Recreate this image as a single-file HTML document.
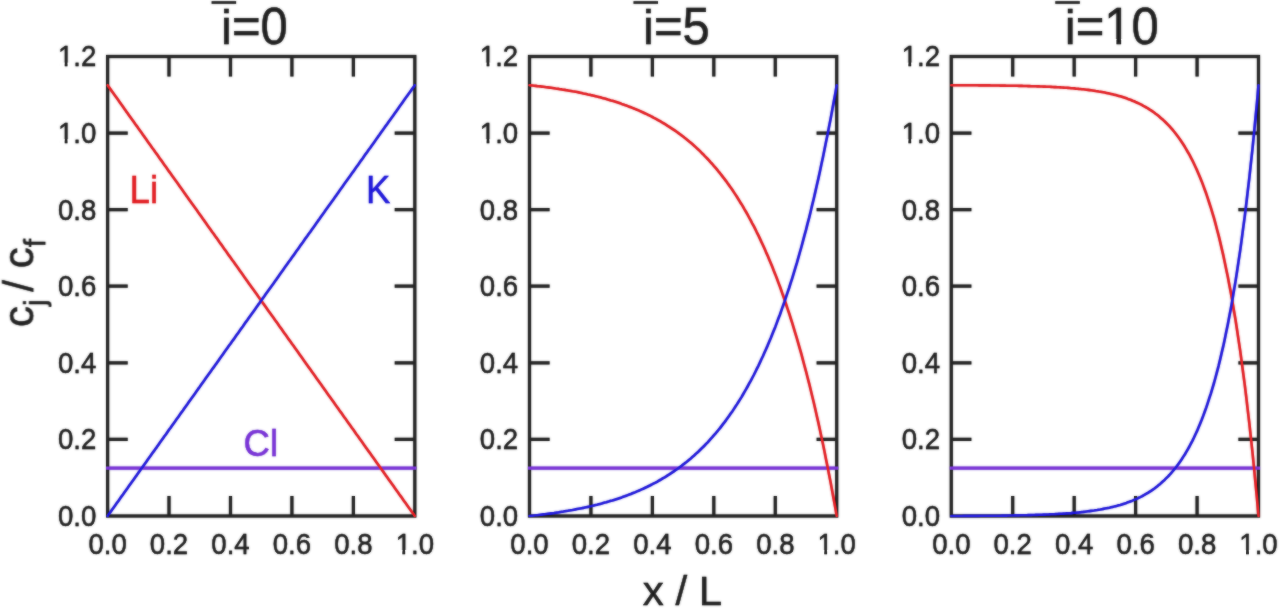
<!DOCTYPE html><html><head><meta charset="utf-8"><title>chart</title><style>html,body{margin:0;padding:0;background:#fff}body{width:1280px;height:609px;overflow:hidden}svg{display:block}#wrap{width:1280px;height:609px;background:#fff}text{font-family:"Liberation Sans",Arial,sans-serif;fill:#1c1c1c;stroke:#1c1c1c;stroke-width:0.35px}</style></head><body><div id="wrap">
<svg width="1280" height="609" viewBox="0 0 1280 609">
<defs><filter id="bl" x="0" y="0" width="1280" height="609" filterUnits="userSpaceOnUse"><feGaussianBlur stdDeviation="0.9"/></filter></defs>
<rect width="1280" height="609" fill="#fff"/>
<g filter="url(#bl)"><rect width="1280" height="609" fill="#fff"/><use href="#all"/></g>
<g opacity="0.72"><g id="all">
<g><rect x="107.6" y="56.5" width="307.2" height="459.5" fill="none" stroke="#1e1e1e" stroke-width="3.2"/><path d="M169.0 56.5v20.1M169.0 516.0v-20.1M230.5 56.5v20.1M230.5 516.0v-20.1M291.9 56.5v20.1M291.9 516.0v-20.1M353.4 56.5v20.1M353.4 516.0v-20.1M107.6 133.1h20.1M414.8 133.1h-20.1M107.6 209.7h20.1M414.8 209.7h-20.1M107.6 286.2h20.1M414.8 286.2h-20.1M107.6 362.8h20.1M414.8 362.8h-20.1M107.6 439.4h20.1M414.8 439.4h-20.1" stroke="#1e1e1e" stroke-width="3.2" fill="none"/><text transform="translate(107.6 553.6) scale(1 1.085)" font-size="27.6" text-anchor="middle">0.0</text><text transform="translate(169.0 553.6) scale(1 1.085)" font-size="27.6" text-anchor="middle">0.2</text><text transform="translate(230.5 553.6) scale(1 1.085)" font-size="27.6" text-anchor="middle">0.4</text><text transform="translate(291.9 553.6) scale(1 1.085)" font-size="27.6" text-anchor="middle">0.6</text><text transform="translate(353.4 553.6) scale(1 1.085)" font-size="27.6" text-anchor="middle">0.8</text><text transform="translate(414.8 553.6) scale(1 1.085)" font-size="27.6" text-anchor="middle">1.0</text><rect x="396.83" y="549.96" width="5.48" height="5.64" fill="#fff"/><rect x="405.25" y="549.96" width="5.44" height="5.64" fill="#fff"/><text transform="translate(96.3 525.8) scale(1 1.085)" font-size="27.6" text-anchor="end">0.0</text><text transform="translate(96.3 449.2) scale(1 1.085)" font-size="27.6" text-anchor="end">0.2</text><text transform="translate(96.3 372.6) scale(1 1.085)" font-size="27.6" text-anchor="end">0.4</text><text transform="translate(96.3 296.1) scale(1 1.085)" font-size="27.6" text-anchor="end">0.6</text><text transform="translate(96.3 219.5) scale(1 1.085)" font-size="27.6" text-anchor="end">0.8</text><text transform="translate(96.3 142.9) scale(1 1.085)" font-size="27.6" text-anchor="end">1.0</text><rect x="59.15" y="139.25" width="5.48" height="5.64" fill="#fff"/><rect x="67.56" y="139.25" width="5.44" height="5.64" fill="#fff"/><text transform="translate(96.3 66.3) scale(1 1.085)" font-size="27.6" text-anchor="end">1.2</text><rect x="59.15" y="62.66" width="5.48" height="5.64" fill="#fff"/><rect x="67.56" y="62.66" width="5.44" height="5.64" fill="#fff"/><path d="M107.6 468.1H414.8" stroke="#782ed6" stroke-width="3.1" fill="none" stroke-linecap="square"/><path d="M107.6 85.2 L109.1 87.4 L110.7 89.5 L112.2 91.7 L113.7 93.8 L115.3 96.0 L116.8 98.1 L118.4 100.3 L119.9 102.4 L121.4 104.6 L123.0 106.8 L124.5 108.9 L126.0 111.1 L127.6 113.2 L129.1 115.4 L130.6 117.5 L132.2 119.7 L133.7 121.8 L135.2 124.0 L136.8 126.1 L138.3 128.3 L139.9 130.5 L141.4 132.6 L142.9 134.8 L144.5 136.9 L146.0 139.1 L147.5 141.2 L149.1 143.4 L150.6 145.5 L152.1 147.7 L153.7 149.8 L155.2 152.0 L156.8 154.1 L158.3 156.3 L159.8 158.5 L161.4 160.6 L162.9 162.8 L164.4 164.9 L166.0 167.1 L167.5 169.2 L169.0 171.4 L170.6 173.5 L172.1 175.7 L173.6 177.8 L175.2 180.0 L176.7 182.1 L178.3 184.3 L179.8 186.5 L181.3 188.6 L182.9 190.8 L184.4 192.9 L185.9 195.1 L187.5 197.2 L189.0 199.4 L190.5 201.5 L192.1 203.7 L193.6 205.8 L195.2 208.0 L196.7 210.1 L198.2 212.3 L199.8 214.5 L201.3 216.6 L202.8 218.8 L204.4 220.9 L205.9 223.1 L207.4 225.2 L209.0 227.4 L210.5 229.5 L212.0 231.7 L213.6 233.8 L215.1 236.0 L216.7 238.1 L218.2 240.3 L219.7 242.5 L221.3 244.6 L222.8 246.8 L224.3 248.9 L225.9 251.1 L227.4 253.2 L228.9 255.4 L230.5 257.5 L232.0 259.7 L233.6 261.8 L235.1 264.0 L236.6 266.1 L238.2 268.3 L239.7 270.5 L241.2 272.6 L242.8 274.8 L244.3 276.9 L245.8 279.1 L247.4 281.2 L248.9 283.4 L250.4 285.5 L252.0 287.7 L253.5 289.8 L255.1 292.0 L256.6 294.1 L258.1 296.3 L259.7 298.5 L261.2 300.6 L262.7 302.8 L264.3 304.9 L265.8 307.1 L267.3 309.2 L268.9 311.4 L270.4 313.5 L272.0 315.7 L273.5 317.8 L275.0 320.0 L276.6 322.1 L278.1 324.3 L279.6 326.5 L281.2 328.6 L282.7 330.8 L284.2 332.9 L285.8 335.1 L287.3 337.2 L288.8 339.4 L290.4 341.5 L291.9 343.7 L293.5 345.8 L295.0 348.0 L296.5 350.1 L298.1 352.3 L299.6 354.5 L301.1 356.6 L302.7 358.8 L304.2 360.9 L305.7 363.1 L307.3 365.2 L308.8 367.4 L310.4 369.5 L311.9 371.7 L313.4 373.8 L315.0 376.0 L316.5 378.2 L318.0 380.3 L319.6 382.5 L321.1 384.6 L322.6 386.8 L324.2 388.9 L325.7 391.1 L327.2 393.2 L328.8 395.4 L330.3 397.5 L331.9 399.7 L333.4 401.8 L334.9 404.0 L336.5 406.2 L338.0 408.3 L339.5 410.5 L341.1 412.6 L342.6 414.8 L344.1 416.9 L345.7 419.1 L347.2 421.2 L348.8 423.4 L350.3 425.5 L351.8 427.7 L353.4 429.8 L354.9 432.0 L356.4 434.2 L358.0 436.3 L359.5 438.5 L361.0 440.6 L362.6 442.8 L364.1 444.9 L365.6 447.1 L367.2 449.2 L368.7 451.4 L370.3 453.5 L371.8 455.7 L373.3 457.8 L374.9 460.0 L376.4 462.2 L377.9 464.3 L379.5 466.5 L381.0 468.6 L382.5 470.8 L384.1 472.9 L385.6 475.1 L387.2 477.2 L388.7 479.4 L390.2 481.5 L391.8 483.7 L393.3 485.8 L394.8 488.0 L396.4 490.2 L397.9 492.3 L399.4 494.5 L401.0 496.6 L402.5 498.8 L404.0 500.9 L405.6 503.1 L407.1 505.2 L408.7 507.4 L410.2 509.5 L411.7 511.7 L413.3 513.8 L414.8 516.0" stroke="#e2181e" stroke-width="2.6" fill="none" stroke-linejoin="round" stroke-linecap="round"/><path d="M107.6 516.0 L109.1 513.8 L110.7 511.7 L112.2 509.5 L113.7 507.4 L115.3 505.2 L116.8 503.1 L118.4 500.9 L119.9 498.8 L121.4 496.6 L123.0 494.5 L124.5 492.3 L126.0 490.2 L127.6 488.0 L129.1 485.8 L130.6 483.7 L132.2 481.5 L133.7 479.4 L135.2 477.2 L136.8 475.1 L138.3 472.9 L139.9 470.8 L141.4 468.6 L142.9 466.5 L144.5 464.3 L146.0 462.2 L147.5 460.0 L149.1 457.8 L150.6 455.7 L152.1 453.5 L153.7 451.4 L155.2 449.2 L156.8 447.1 L158.3 444.9 L159.8 442.8 L161.4 440.6 L162.9 438.5 L164.4 436.3 L166.0 434.2 L167.5 432.0 L169.0 429.8 L170.6 427.7 L172.1 425.5 L173.6 423.4 L175.2 421.2 L176.7 419.1 L178.3 416.9 L179.8 414.8 L181.3 412.6 L182.9 410.5 L184.4 408.3 L185.9 406.2 L187.5 404.0 L189.0 401.8 L190.5 399.7 L192.1 397.5 L193.6 395.4 L195.2 393.2 L196.7 391.1 L198.2 388.9 L199.8 386.8 L201.3 384.6 L202.8 382.5 L204.4 380.3 L205.9 378.1 L207.4 376.0 L209.0 373.8 L210.5 371.7 L212.0 369.5 L213.6 367.4 L215.1 365.2 L216.7 363.1 L218.2 360.9 L219.7 358.8 L221.3 356.6 L222.8 354.5 L224.3 352.3 L225.9 350.1 L227.4 348.0 L228.9 345.8 L230.5 343.7 L232.0 341.5 L233.6 339.4 L235.1 337.2 L236.6 335.1 L238.2 332.9 L239.7 330.8 L241.2 328.6 L242.8 326.5 L244.3 324.3 L245.8 322.1 L247.4 320.0 L248.9 317.8 L250.4 315.7 L252.0 313.5 L253.5 311.4 L255.1 309.2 L256.6 307.1 L258.1 304.9 L259.7 302.8 L261.2 300.6 L262.7 298.5 L264.3 296.3 L265.8 294.1 L267.3 292.0 L268.9 289.8 L270.4 287.7 L272.0 285.5 L273.5 283.4 L275.0 281.2 L276.6 279.1 L278.1 276.9 L279.6 274.8 L281.2 272.6 L282.7 270.5 L284.2 268.3 L285.8 266.1 L287.3 264.0 L288.8 261.8 L290.4 259.7 L291.9 257.5 L293.5 255.4 L295.0 253.2 L296.5 251.1 L298.1 248.9 L299.6 246.8 L301.1 244.6 L302.7 242.5 L304.2 240.3 L305.7 238.1 L307.3 236.0 L308.8 233.8 L310.4 231.7 L311.9 229.5 L313.4 227.4 L315.0 225.2 L316.5 223.1 L318.0 220.9 L319.6 218.8 L321.1 216.6 L322.6 214.5 L324.2 212.3 L325.7 210.1 L327.2 208.0 L328.8 205.8 L330.3 203.7 L331.9 201.5 L333.4 199.4 L334.9 197.2 L336.5 195.1 L338.0 192.9 L339.5 190.8 L341.1 188.6 L342.6 186.5 L344.1 184.3 L345.7 182.1 L347.2 180.0 L348.8 177.8 L350.3 175.7 L351.8 173.5 L353.4 171.4 L354.9 169.2 L356.4 167.1 L358.0 164.9 L359.5 162.8 L361.0 160.6 L362.6 158.5 L364.1 156.3 L365.6 154.1 L367.2 152.0 L368.7 149.8 L370.3 147.7 L371.8 145.5 L373.3 143.4 L374.9 141.2 L376.4 139.1 L377.9 136.9 L379.5 134.8 L381.0 132.6 L382.5 130.5 L384.1 128.3 L385.6 126.1 L387.2 124.0 L388.7 121.8 L390.2 119.7 L391.8 117.5 L393.3 115.4 L394.8 113.2 L396.4 111.1 L397.9 108.9 L399.4 106.8 L401.0 104.6 L402.5 102.4 L404.0 100.3 L405.6 98.1 L407.1 96.0 L408.7 93.8 L410.2 91.7 L411.7 89.5 L413.3 87.4 L414.8 85.2" stroke="#1a12da" stroke-width="2.6" fill="none" stroke-linejoin="round" stroke-linecap="round"/><text transform="translate(221.1 44.0) scale(1 1.0)" font-size="49" text-anchor="start">i</text><text transform="translate(232.0 44.2) scale(1 1.04)" font-size="49" text-anchor="start">=0</text><path d="M211.6 2.5h24.5" stroke="#1e1e1e" stroke-width="2.6" fill="none"/></g>
<g><rect x="529.5" y="56.5" width="307.2" height="459.5" fill="none" stroke="#1e1e1e" stroke-width="3.2"/><path d="M590.9 56.5v20.1M590.9 516.0v-20.1M652.4 56.5v20.1M652.4 516.0v-20.1M713.8 56.5v20.1M713.8 516.0v-20.1M775.3 56.5v20.1M775.3 516.0v-20.1M529.5 133.1h20.1M836.7 133.1h-20.1M529.5 209.7h20.1M836.7 209.7h-20.1M529.5 286.2h20.1M836.7 286.2h-20.1M529.5 362.8h20.1M836.7 362.8h-20.1M529.5 439.4h20.1M836.7 439.4h-20.1" stroke="#1e1e1e" stroke-width="3.2" fill="none"/><text transform="translate(529.5 553.6) scale(1 1.085)" font-size="27.6" text-anchor="middle">0.0</text><text transform="translate(590.9 553.6) scale(1 1.085)" font-size="27.6" text-anchor="middle">0.2</text><text transform="translate(652.4 553.6) scale(1 1.085)" font-size="27.6" text-anchor="middle">0.4</text><text transform="translate(713.8 553.6) scale(1 1.085)" font-size="27.6" text-anchor="middle">0.6</text><text transform="translate(775.3 553.6) scale(1 1.085)" font-size="27.6" text-anchor="middle">0.8</text><text transform="translate(836.7 553.6) scale(1 1.085)" font-size="27.6" text-anchor="middle">1.0</text><rect x="818.73" y="549.96" width="5.48" height="5.64" fill="#fff"/><rect x="827.15" y="549.96" width="5.44" height="5.64" fill="#fff"/><text transform="translate(518.2 525.8) scale(1 1.085)" font-size="27.6" text-anchor="end">0.0</text><text transform="translate(518.2 449.2) scale(1 1.085)" font-size="27.6" text-anchor="end">0.2</text><text transform="translate(518.2 372.6) scale(1 1.085)" font-size="27.6" text-anchor="end">0.4</text><text transform="translate(518.2 296.1) scale(1 1.085)" font-size="27.6" text-anchor="end">0.6</text><text transform="translate(518.2 219.5) scale(1 1.085)" font-size="27.6" text-anchor="end">0.8</text><text transform="translate(518.2 142.9) scale(1 1.085)" font-size="27.6" text-anchor="end">1.0</text><rect x="481.05" y="139.25" width="5.48" height="5.64" fill="#fff"/><rect x="489.46" y="139.25" width="5.44" height="5.64" fill="#fff"/><text transform="translate(518.2 66.3) scale(1 1.085)" font-size="27.6" text-anchor="end">1.2</text><rect x="481.05" y="62.66" width="5.48" height="5.64" fill="#fff"/><rect x="489.46" y="62.66" width="5.44" height="5.64" fill="#fff"/><path d="M529.5 468.1H836.7" stroke="#782ed6" stroke-width="3.1" fill="none" stroke-linecap="square"/><path d="M529.5 85.2 L531.0 85.4 L532.6 85.5 L534.1 85.7 L535.6 85.9 L537.2 86.1 L538.7 86.2 L540.3 86.4 L541.8 86.6 L543.3 86.8 L544.9 87.0 L546.4 87.2 L547.9 87.4 L549.5 87.6 L551.0 87.8 L552.5 88.0 L554.1 88.2 L555.6 88.5 L557.1 88.7 L558.7 88.9 L560.2 89.2 L561.8 89.4 L563.3 89.7 L564.8 89.9 L566.4 90.2 L567.9 90.4 L569.4 90.7 L571.0 91.0 L572.5 91.3 L574.0 91.5 L575.6 91.8 L577.1 92.1 L578.7 92.4 L580.2 92.7 L581.7 93.0 L583.3 93.4 L584.8 93.7 L586.3 94.0 L587.9 94.4 L589.4 94.7 L590.9 95.1 L592.5 95.4 L594.0 95.8 L595.5 96.2 L597.1 96.6 L598.6 96.9 L600.2 97.3 L601.7 97.8 L603.2 98.2 L604.8 98.6 L606.3 99.0 L607.8 99.5 L609.4 99.9 L610.9 100.4 L612.4 100.8 L614.0 101.3 L615.5 101.8 L617.1 102.3 L618.6 102.8 L620.1 103.3 L621.7 103.9 L623.2 104.4 L624.7 105.0 L626.3 105.5 L627.8 106.1 L629.3 106.7 L630.9 107.3 L632.4 107.9 L633.9 108.5 L635.5 109.1 L637.0 109.8 L638.6 110.4 L640.1 111.1 L641.6 111.8 L643.2 112.5 L644.7 113.2 L646.2 113.9 L647.8 114.7 L649.3 115.4 L650.8 116.2 L652.4 117.0 L653.9 117.8 L655.5 118.6 L657.0 119.5 L658.5 120.3 L660.1 121.2 L661.6 122.1 L663.1 123.0 L664.7 123.9 L666.2 124.8 L667.7 125.8 L669.3 126.8 L670.8 127.8 L672.3 128.8 L673.9 129.9 L675.4 130.9 L677.0 132.0 L678.5 133.1 L680.0 134.2 L681.6 135.4 L683.1 136.6 L684.6 137.8 L686.2 139.0 L687.7 140.2 L689.2 141.5 L690.8 142.8 L692.3 144.1 L693.9 145.5 L695.4 146.9 L696.9 148.3 L698.5 149.7 L700.0 151.2 L701.5 152.7 L703.1 154.2 L704.6 155.8 L706.1 157.3 L707.7 159.0 L709.2 160.6 L710.7 162.3 L712.3 164.0 L713.8 165.8 L715.4 167.6 L716.9 169.4 L718.4 171.3 L720.0 173.2 L721.5 175.1 L723.0 177.1 L724.6 179.1 L726.1 181.1 L727.6 183.3 L729.2 185.4 L730.7 187.6 L732.3 189.8 L733.8 192.1 L735.3 194.4 L736.9 196.8 L738.4 199.2 L739.9 201.7 L741.5 204.2 L743.0 206.7 L744.5 209.4 L746.1 212.0 L747.6 214.7 L749.1 217.5 L750.7 220.4 L752.2 223.3 L753.8 226.2 L755.3 229.2 L756.8 232.3 L758.4 235.4 L759.9 238.6 L761.4 241.9 L763.0 245.2 L764.5 248.6 L766.0 252.1 L767.6 255.6 L769.1 259.2 L770.7 262.9 L772.2 266.6 L773.7 270.5 L775.3 274.4 L776.8 278.3 L778.3 282.4 L779.9 286.5 L781.4 290.8 L782.9 295.1 L784.5 299.5 L786.0 304.0 L787.5 308.6 L789.1 313.2 L790.6 318.0 L792.2 322.9 L793.7 327.8 L795.2 332.9 L796.8 338.1 L798.3 343.3 L799.8 348.7 L801.4 354.2 L802.9 359.8 L804.4 365.5 L806.0 371.3 L807.5 377.3 L809.1 383.3 L810.6 389.5 L812.1 395.8 L813.7 402.3 L815.2 408.8 L816.7 415.5 L818.3 422.4 L819.8 429.3 L821.3 436.5 L822.9 443.7 L824.4 451.1 L825.9 458.7 L827.5 466.4 L829.0 474.2 L830.6 482.3 L832.1 490.4 L833.6 498.8 L835.2 507.3 L836.7 516.0" stroke="#e2181e" stroke-width="2.6" fill="none" stroke-linejoin="round" stroke-linecap="round"/><path d="M529.5 516.0 L531.0 515.8 L532.6 515.7 L534.1 515.5 L535.6 515.3 L537.2 515.2 L538.7 515.0 L540.3 514.8 L541.8 514.6 L543.3 514.4 L544.9 514.2 L546.4 514.0 L547.9 513.8 L549.5 513.6 L551.0 513.4 L552.5 513.2 L554.1 513.0 L555.6 512.7 L557.1 512.5 L558.7 512.3 L560.2 512.0 L561.8 511.8 L563.3 511.6 L564.8 511.3 L566.4 511.0 L567.9 510.8 L569.4 510.5 L571.0 510.2 L572.5 510.0 L574.0 509.7 L575.6 509.4 L577.1 509.1 L578.7 508.8 L580.2 508.5 L581.7 508.2 L583.3 507.9 L584.8 507.5 L586.3 507.2 L587.9 506.9 L589.4 506.5 L590.9 506.2 L592.5 505.8 L594.0 505.4 L595.5 505.0 L597.1 504.7 L598.6 504.3 L600.2 503.9 L601.7 503.5 L603.2 503.0 L604.8 502.6 L606.3 502.2 L607.8 501.7 L609.4 501.3 L610.9 500.8 L612.4 500.4 L614.0 499.9 L615.5 499.4 L617.1 498.9 L618.6 498.4 L620.1 497.9 L621.7 497.4 L623.2 496.8 L624.7 496.3 L626.3 495.7 L627.8 495.1 L629.3 494.5 L630.9 494.0 L632.4 493.3 L633.9 492.7 L635.5 492.1 L637.0 491.4 L638.6 490.8 L640.1 490.1 L641.6 489.4 L643.2 488.7 L644.7 488.0 L646.2 487.3 L647.8 486.5 L649.3 485.8 L650.8 485.0 L652.4 484.2 L653.9 483.4 L655.5 482.6 L657.0 481.8 L658.5 480.9 L660.1 480.0 L661.6 479.2 L663.1 478.2 L664.7 477.3 L666.2 476.4 L667.7 475.4 L669.3 474.4 L670.8 473.4 L672.3 472.4 L673.9 471.4 L675.4 470.3 L677.0 469.2 L678.5 468.1 L680.0 467.0 L681.6 465.8 L683.1 464.6 L684.6 463.4 L686.2 462.2 L687.7 461.0 L689.2 459.7 L690.8 458.4 L692.3 457.1 L693.9 455.7 L695.4 454.3 L696.9 452.9 L698.5 451.5 L700.0 450.0 L701.5 448.5 L703.1 447.0 L704.6 445.5 L706.1 443.9 L707.7 442.3 L709.2 440.6 L710.7 438.9 L712.3 437.2 L713.8 435.4 L715.4 433.7 L716.9 431.8 L718.4 430.0 L720.0 428.1 L721.5 426.1 L723.0 424.1 L724.6 422.1 L726.1 420.1 L727.6 418.0 L729.2 415.8 L730.7 413.6 L732.3 411.4 L733.8 409.1 L735.3 406.8 L736.9 404.4 L738.4 402.0 L739.9 399.6 L741.5 397.1 L743.0 394.5 L744.5 391.9 L746.1 389.2 L747.6 386.5 L749.1 383.7 L750.7 380.9 L752.2 378.0 L753.8 375.0 L755.3 372.0 L756.8 368.9 L758.4 365.8 L759.9 362.6 L761.4 359.3 L763.0 356.0 L764.5 352.6 L766.0 349.2 L767.6 345.6 L769.1 342.0 L770.7 338.3 L772.2 334.6 L773.7 330.8 L775.3 326.9 L776.8 322.9 L778.3 318.8 L779.9 314.7 L781.4 310.4 L782.9 306.1 L784.5 301.7 L786.0 297.2 L787.5 292.7 L789.1 288.0 L790.6 283.2 L792.2 278.3 L793.7 273.4 L795.2 268.3 L796.8 263.2 L798.3 257.9 L799.8 252.5 L801.4 247.0 L802.9 241.4 L804.4 235.7 L806.0 229.9 L807.5 223.9 L809.1 217.9 L810.6 211.7 L812.1 205.4 L813.7 199.0 L815.2 192.4 L816.7 185.7 L818.3 178.9 L819.8 171.9 L821.3 164.8 L822.9 157.5 L824.4 150.1 L825.9 142.5 L827.5 134.8 L829.0 127.0 L830.6 119.0 L832.1 110.8 L833.6 102.4 L835.2 93.9 L836.7 85.2" stroke="#1a12da" stroke-width="2.6" fill="none" stroke-linejoin="round" stroke-linecap="round"/><text transform="translate(643.0 44.0) scale(1 1.0)" font-size="49" text-anchor="start">i</text><text transform="translate(653.9 44.2) scale(1 1.04)" font-size="49" text-anchor="start">=5</text><path d="M633.5 2.5h24.5" stroke="#1e1e1e" stroke-width="2.6" fill="none"/></g>
<g><rect x="951.3" y="56.5" width="307.2" height="459.5" fill="none" stroke="#1e1e1e" stroke-width="3.2"/><path d="M1012.7 56.5v20.1M1012.7 516.0v-20.1M1074.2 56.5v20.1M1074.2 516.0v-20.1M1135.6 56.5v20.1M1135.6 516.0v-20.1M1197.1 56.5v20.1M1197.1 516.0v-20.1M951.3 133.1h20.1M1258.5 133.1h-20.1M951.3 209.7h20.1M1258.5 209.7h-20.1M951.3 286.2h20.1M1258.5 286.2h-20.1M951.3 362.8h20.1M1258.5 362.8h-20.1M951.3 439.4h20.1M1258.5 439.4h-20.1" stroke="#1e1e1e" stroke-width="3.2" fill="none"/><text transform="translate(951.3 553.6) scale(1 1.085)" font-size="27.6" text-anchor="middle">0.0</text><text transform="translate(1012.7 553.6) scale(1 1.085)" font-size="27.6" text-anchor="middle">0.2</text><text transform="translate(1074.2 553.6) scale(1 1.085)" font-size="27.6" text-anchor="middle">0.4</text><text transform="translate(1135.6 553.6) scale(1 1.085)" font-size="27.6" text-anchor="middle">0.6</text><text transform="translate(1197.1 553.6) scale(1 1.085)" font-size="27.6" text-anchor="middle">0.8</text><text transform="translate(1258.5 553.6) scale(1 1.085)" font-size="27.6" text-anchor="middle">1.0</text><rect x="1240.53" y="549.96" width="5.48" height="5.64" fill="#fff"/><rect x="1248.95" y="549.96" width="5.44" height="5.64" fill="#fff"/><text transform="translate(940.0 525.8) scale(1 1.085)" font-size="27.6" text-anchor="end">0.0</text><text transform="translate(940.0 449.2) scale(1 1.085)" font-size="27.6" text-anchor="end">0.2</text><text transform="translate(940.0 372.6) scale(1 1.085)" font-size="27.6" text-anchor="end">0.4</text><text transform="translate(940.0 296.1) scale(1 1.085)" font-size="27.6" text-anchor="end">0.6</text><text transform="translate(940.0 219.5) scale(1 1.085)" font-size="27.6" text-anchor="end">0.8</text><text transform="translate(940.0 142.9) scale(1 1.085)" font-size="27.6" text-anchor="end">1.0</text><rect x="902.85" y="139.25" width="5.48" height="5.64" fill="#fff"/><rect x="911.26" y="139.25" width="5.44" height="5.64" fill="#fff"/><text transform="translate(940.0 66.3) scale(1 1.085)" font-size="27.6" text-anchor="end">1.2</text><rect x="902.85" y="62.66" width="5.48" height="5.64" fill="#fff"/><rect x="911.26" y="62.66" width="5.44" height="5.64" fill="#fff"/><path d="M951.3 468.1H1258.5" stroke="#782ed6" stroke-width="3.1" fill="none" stroke-linecap="square"/><path d="M951.3 85.2 L952.8 85.2 L954.4 85.2 L955.9 85.2 L957.4 85.2 L959.0 85.2 L960.5 85.3 L962.1 85.3 L963.6 85.3 L965.1 85.3 L966.7 85.3 L968.2 85.3 L969.7 85.3 L971.3 85.3 L972.8 85.3 L974.3 85.3 L975.9 85.3 L977.4 85.3 L978.9 85.4 L980.5 85.4 L982.0 85.4 L983.6 85.4 L985.1 85.4 L986.6 85.4 L988.2 85.4 L989.7 85.4 L991.2 85.5 L992.8 85.5 L994.3 85.5 L995.8 85.5 L997.4 85.5 L998.9 85.5 L1000.5 85.6 L1002.0 85.6 L1003.5 85.6 L1005.1 85.6 L1006.6 85.7 L1008.1 85.7 L1009.7 85.7 L1011.2 85.7 L1012.7 85.7 L1014.3 85.8 L1015.8 85.8 L1017.3 85.8 L1018.9 85.9 L1020.4 85.9 L1022.0 85.9 L1023.5 86.0 L1025.0 86.0 L1026.6 86.0 L1028.1 86.1 L1029.6 86.1 L1031.2 86.2 L1032.7 86.2 L1034.2 86.3 L1035.8 86.3 L1037.3 86.4 L1038.9 86.4 L1040.4 86.5 L1041.9 86.5 L1043.5 86.6 L1045.0 86.6 L1046.5 86.7 L1048.1 86.8 L1049.6 86.8 L1051.1 86.9 L1052.7 87.0 L1054.2 87.1 L1055.7 87.1 L1057.3 87.2 L1058.8 87.3 L1060.4 87.4 L1061.9 87.5 L1063.4 87.6 L1065.0 87.7 L1066.5 87.8 L1068.0 87.9 L1069.6 88.0 L1071.1 88.2 L1072.6 88.3 L1074.2 88.4 L1075.7 88.6 L1077.3 88.7 L1078.8 88.9 L1080.3 89.0 L1081.9 89.2 L1083.4 89.3 L1084.9 89.5 L1086.5 89.7 L1088.0 89.9 L1089.5 90.1 L1091.1 90.3 L1092.6 90.5 L1094.1 90.7 L1095.7 91.0 L1097.2 91.2 L1098.8 91.5 L1100.3 91.7 L1101.8 92.0 L1103.4 92.3 L1104.9 92.6 L1106.4 92.9 L1108.0 93.2 L1109.5 93.6 L1111.0 93.9 L1112.6 94.3 L1114.1 94.7 L1115.7 95.1 L1117.2 95.5 L1118.7 95.9 L1120.3 96.3 L1121.8 96.8 L1123.3 97.3 L1124.9 97.8 L1126.4 98.3 L1127.9 98.9 L1129.5 99.4 L1131.0 100.0 L1132.5 100.7 L1134.1 101.3 L1135.6 102.0 L1137.2 102.7 L1138.7 103.4 L1140.2 104.1 L1141.8 104.9 L1143.3 105.8 L1144.8 106.6 L1146.4 107.5 L1147.9 108.4 L1149.4 109.4 L1151.0 110.4 L1152.5 111.4 L1154.1 112.5 L1155.6 113.7 L1157.1 114.8 L1158.7 116.1 L1160.2 117.4 L1161.7 118.7 L1163.3 120.1 L1164.8 121.5 L1166.3 123.0 L1167.9 124.6 L1169.4 126.2 L1170.9 127.9 L1172.5 129.7 L1174.0 131.5 L1175.6 133.5 L1177.1 135.5 L1178.6 137.5 L1180.2 139.7 L1181.7 142.0 L1183.2 144.3 L1184.8 146.8 L1186.3 149.3 L1187.8 152.0 L1189.4 154.7 L1190.9 157.6 L1192.5 160.6 L1194.0 163.7 L1195.5 167.0 L1197.1 170.4 L1198.6 173.9 L1200.1 177.6 L1201.7 181.4 L1203.2 185.4 L1204.7 189.5 L1206.3 193.8 L1207.8 198.3 L1209.3 203.0 L1210.9 207.9 L1212.4 212.9 L1214.0 218.2 L1215.5 223.7 L1217.0 229.5 L1218.6 235.4 L1220.1 241.6 L1221.6 248.1 L1223.2 254.9 L1224.7 261.9 L1226.2 269.2 L1227.8 276.8 L1229.3 284.7 L1230.9 293.0 L1232.4 301.5 L1233.9 310.5 L1235.5 319.8 L1237.0 329.5 L1238.5 339.6 L1240.1 350.1 L1241.6 361.1 L1243.1 372.5 L1244.7 384.4 L1246.2 396.7 L1247.7 409.6 L1249.3 423.0 L1250.8 437.0 L1252.4 451.6 L1253.9 466.7 L1255.4 482.5 L1257.0 498.9 L1258.5 516.0" stroke="#e2181e" stroke-width="2.6" fill="none" stroke-linejoin="round" stroke-linecap="round"/><path d="M951.3 516.0 L952.8 516.0 L954.4 516.0 L955.9 516.0 L957.4 516.0 L959.0 516.0 L960.5 516.0 L962.1 516.0 L963.6 515.9 L965.1 515.9 L966.7 515.9 L968.2 515.9 L969.7 515.9 L971.3 515.9 L972.8 515.9 L974.3 515.9 L975.9 515.9 L977.4 515.9 L978.9 515.9 L980.5 515.8 L982.0 515.8 L983.6 515.8 L985.1 515.8 L986.6 515.8 L988.2 515.8 L989.7 515.8 L991.2 515.8 L992.8 515.7 L994.3 515.7 L995.8 515.7 L997.4 515.7 L998.9 515.7 L1000.5 515.7 L1002.0 515.6 L1003.5 515.6 L1005.1 515.6 L1006.6 515.6 L1008.1 515.5 L1009.7 515.5 L1011.2 515.5 L1012.7 515.5 L1014.3 515.4 L1015.8 515.4 L1017.3 515.4 L1018.9 515.4 L1020.4 515.3 L1022.0 515.3 L1023.5 515.3 L1025.0 515.2 L1026.6 515.2 L1028.1 515.1 L1029.6 515.1 L1031.2 515.1 L1032.7 515.0 L1034.2 515.0 L1035.8 514.9 L1037.3 514.9 L1038.9 514.8 L1040.4 514.8 L1041.9 514.7 L1043.5 514.6 L1045.0 514.6 L1046.5 514.5 L1048.1 514.5 L1049.6 514.4 L1051.1 514.3 L1052.7 514.2 L1054.2 514.2 L1055.7 514.1 L1057.3 514.0 L1058.8 513.9 L1060.4 513.8 L1061.9 513.7 L1063.4 513.6 L1065.0 513.5 L1066.5 513.4 L1068.0 513.3 L1069.6 513.2 L1071.1 513.1 L1072.6 512.9 L1074.2 512.8 L1075.7 512.7 L1077.3 512.5 L1078.8 512.4 L1080.3 512.2 L1081.9 512.0 L1083.4 511.9 L1084.9 511.7 L1086.5 511.5 L1088.0 511.3 L1089.5 511.1 L1091.1 510.9 L1092.6 510.7 L1094.1 510.5 L1095.7 510.2 L1097.2 510.0 L1098.8 509.7 L1100.3 509.5 L1101.8 509.2 L1103.4 508.9 L1104.9 508.6 L1106.4 508.3 L1108.0 508.0 L1109.5 507.7 L1111.0 507.3 L1112.6 506.9 L1114.1 506.6 L1115.7 506.2 L1117.2 505.8 L1118.7 505.3 L1120.3 504.9 L1121.8 504.4 L1123.3 503.9 L1124.9 503.4 L1126.4 502.9 L1127.9 502.3 L1129.5 501.8 L1131.0 501.2 L1132.5 500.6 L1134.1 499.9 L1135.6 499.3 L1137.2 498.6 L1138.7 497.8 L1140.2 497.1 L1141.8 496.3 L1143.3 495.5 L1144.8 494.6 L1146.4 493.7 L1147.9 492.8 L1149.4 491.8 L1151.0 490.8 L1152.5 489.8 L1154.1 488.7 L1155.6 487.6 L1157.1 486.4 L1158.7 485.1 L1160.2 483.9 L1161.7 482.5 L1163.3 481.1 L1164.8 479.7 L1166.3 478.2 L1167.9 476.6 L1169.4 475.0 L1170.9 473.3 L1172.5 471.5 L1174.0 469.7 L1175.6 467.8 L1177.1 465.8 L1178.6 463.7 L1180.2 461.5 L1181.7 459.3 L1183.2 456.9 L1184.8 454.5 L1186.3 451.9 L1187.8 449.3 L1189.4 446.5 L1190.9 443.6 L1192.5 440.6 L1194.0 437.5 L1195.5 434.2 L1197.1 430.9 L1198.6 427.3 L1200.1 423.7 L1201.7 419.8 L1203.2 415.9 L1204.7 411.7 L1206.3 407.4 L1207.8 402.9 L1209.3 398.2 L1210.9 393.3 L1212.4 388.3 L1214.0 383.0 L1215.5 377.5 L1217.0 371.8 L1218.6 365.8 L1220.1 359.6 L1221.6 353.1 L1223.2 346.4 L1224.7 339.4 L1226.2 332.0 L1227.8 324.4 L1229.3 316.5 L1230.9 308.3 L1232.4 299.7 L1233.9 290.7 L1235.5 281.4 L1237.0 271.7 L1238.5 261.6 L1240.1 251.1 L1241.6 240.1 L1243.1 228.7 L1244.7 216.8 L1246.2 204.5 L1247.7 191.6 L1249.3 178.2 L1250.8 164.2 L1252.4 149.7 L1253.9 134.5 L1255.4 118.7 L1257.0 102.3 L1258.5 85.2" stroke="#1a12da" stroke-width="2.6" fill="none" stroke-linejoin="round" stroke-linecap="round"/><text transform="translate(1064.8 44.0) scale(1 1.0)" font-size="49" text-anchor="start">i</text><text transform="translate(1075.7 44.2) scale(1 1.04)" font-size="49" text-anchor="start">=10</text><rect x="1106.45" y="38.99" width="9.92" height="7.21" fill="#fff"/><rect x="1121.20" y="38.99" width="9.67" height="7.21" fill="#fff"/><path d="M1055.3 2.5h24.5" stroke="#1e1e1e" stroke-width="2.6" fill="none"/></g>
<text transform="translate(682.5 605.2) scale(1 0.98)" font-size="42" text-anchor="middle">x / L</text>
<text transform="translate(33.3 327) rotate(-90)" font-size="42">c<tspan font-size="30" dy="12">j</tspan><tspan dy="-12" dx="-4"> / c</tspan><tspan font-size="30" dy="12">f</tspan></text>
<text transform="translate(129.6 202.6) scale(1 1.035)" font-size="36.8" text-anchor="start" style="fill:#e2181e;stroke:#e2181e">Li</text>
<text transform="translate(366.0 202.6) scale(1 1.045)" font-size="36.5" text-anchor="start" style="fill:#1a12da;stroke:#1a12da">K</text>
<text transform="translate(243.6 455.6) scale(1 1.03)" font-size="36.5" text-anchor="start" style="fill:#782ed6;stroke:#782ed6">Cl</text>
</g></g></svg></div></body></html>
